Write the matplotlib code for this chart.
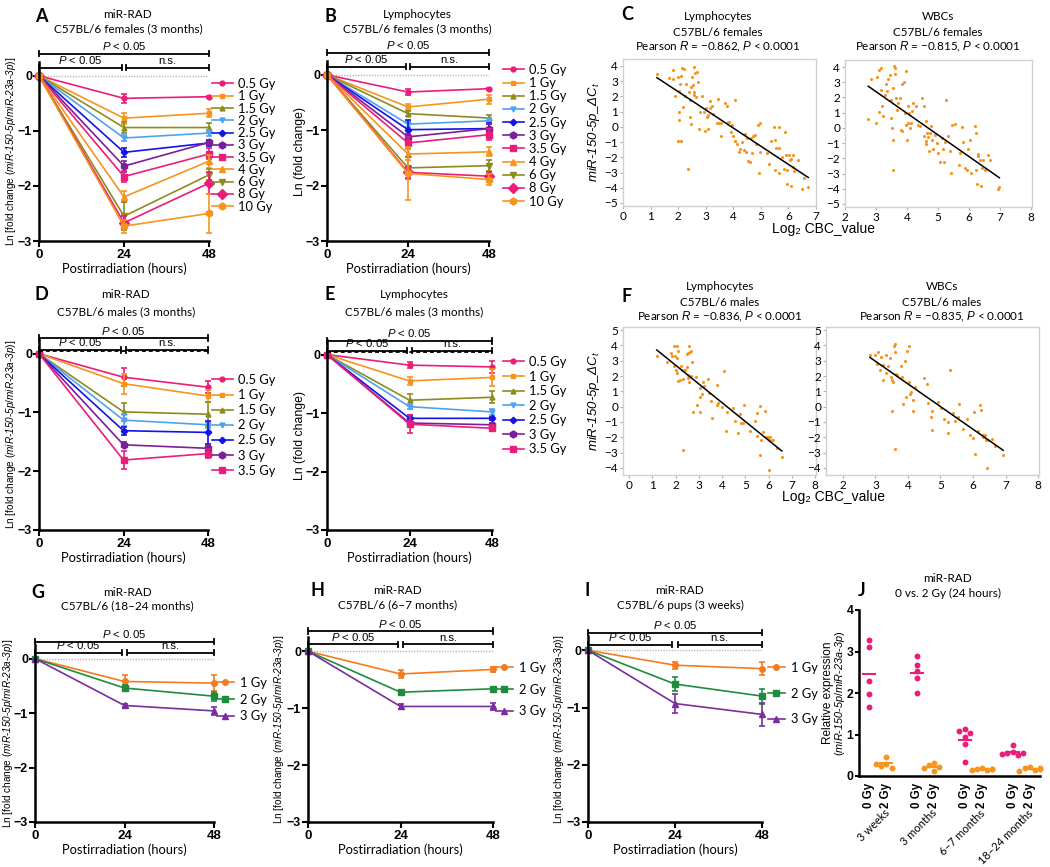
import numpy as np
import matplotlib.pyplot as plt
from matplotlib.transforms import blended_transform_factory

plt.rcParams['font.family'] = ['Liberation Sans', 'DejaVu Sans']
plt.rcParams['mathtext.fontset'] = 'custom'
plt.rcParams['mathtext.rm'] = 'Liberation Sans:italic'
plt.rcParams['mathtext.it'] = 'Liberation Sans:italic'
plt.rcParams['mathtext.bf'] = 'Liberation Sans:bold'

# ---------------- data ----------------
hours = [0, 24, 48]
doses_11 = ["0.5 Gy", "1 Gy", "1.5 Gy", "2 Gy", "2.5 Gy", "3 Gy", "3.5 Gy",
            "4 Gy", "6 Gy", "8 Gy", "10 Gy"]
doses_7 = doses_11[:7]
doses_3 = ["1 Gy", "2 Gy", "3 Gy"]

# A: miR-RAD, females
a_24h = [-0.41, -0.77, -0.94, -1.13, -1.39, -1.64, -1.83, -2.20, -2.55, -2.67, -2.73]
a_48h = [-0.38, -0.68, -0.94, -1.04, -1.22, -1.21, -1.42, -1.55, -1.80, -1.95, -2.50]
a_sem24 = [0.08, 0.10, 0.10, 0.06, 0.08, 0.10, 0.10, 0.10, 0.25, 0.12, 0.12]
a_sem48 = [0.02, 0.07, 0.08, 0.05, 0.05, 0.05, 0.10, 0.12, 0.10, 0.20, 0.35]

# B: lymphocytes, females
b_24h = [-0.31, -0.58, -0.70, -0.89, -0.99, -1.12, -1.23, -1.43, -1.68, -1.76, -1.78]
b_48h = [-0.25, -0.44, -0.78, -0.83, -0.97, -0.97, -1.08, -1.39, -1.64, -1.83, -1.89]
b_sem24 = [0.06, 0.06, 0.05, 0.05, 0.18, 0.05, 0.10, 0.10, 0.20, 0.10, 0.48]
b_sem48 = [0.02, 0.08, 0.06, 0.05, 0.10, 0.08, 0.10, 0.08, 0.10, 0.08, 0.10]

# D: miR-RAD, males
d_24h = [-0.40, -0.51, -0.99, -1.13, -1.31, -1.55, -1.81]
d_48h = [-0.57, -0.72, -1.03, -1.21, -1.34, -1.61, -1.70]
d_sem24 = [0.15, 0.17, 0.15, 0.10, 0.07, 0.04, 0.15]
d_sem48 = [0.10, 0.10, 0.20, 0.05, 0.20, 0.05, 0.08]

# E: lymphocytes, males
e_24h = [-0.18, -0.45, -0.78, -0.89, -1.09, -1.17, -1.19]
e_48h = [-0.21, -0.39, -0.73, -0.98, -1.09, -1.20, -1.26]
e_sem24 = [0.05, 0.07, 0.10, 0.04, 0.05, 0.05, 0.15]
e_sem48 = [0.10, 0.15, 0.10, 0.05, 0.03, 0.03, 0.05]

# G, H, I: age groups
g_24h = [-0.42, -0.54, -0.86]
g_48h = [-0.45, -0.69, -0.96]
g_sem24 = [0.12, 0.06, 0.02]
g_sem48 = [0.15, 0.08, 0.07]
h_24h = [-0.40, -0.72, -0.97]
h_48h = [-0.32, -0.66, -0.97]
h_sem24 = [0.07, 0.03, 0.04]
h_sem48 = [0.04, 0.02, 0.06]
i_24h = [-0.26, -0.59, -0.93]
i_48h = [-0.32, -0.80, -1.12]
i_sem24 = [0.06, 0.12, 0.17]
i_sem48 = [0.12, 0.13, 0.20]

# C: females, log2 CBC vs miR-150-5p dCt
c_lym_x = [1.23, 1.68, 1.83, 1.83, 1.90, 2.00, 1.99, 2.11, 2.04, 2.04, 2.17, 2.03, 2.08,
           2.13, 2.20, 2.10, 2.24, 2.27, 2.36, 2.39, 2.44, 2.47, 2.42, 2.48, 2.52, 2.53,
           2.56, 2.59, 2.61, 2.69, 2.66, 2.59, 2.71, 2.77, 2.81, 2.87, 2.93, 2.96, 3.00,
           3.05, 3.07, 3.09, 3.14, 3.17, 3.22, 3.26, 3.41, 3.45, 3.49, 3.54, 3.57, 3.69,
           3.77, 3.82, 3.86, 3.90, 3.96, 3.99, 4.05, 4.08, 4.08, 4.14, 4.20, 4.26, 4.31,
           4.39, 4.42, 4.45, 4.50, 4.54, 4.59, 4.63, 4.67, 4.71, 4.79, 4.84, 4.91, 4.93,
           4.97, 4.97, 5.24, 5.30, 5.36, 5.46, 5.52, 5.52, 5.54, 5.64, 5.67, 5.67, 5.78,
           5.84, 5.89, 5.93, 5.96, 5.96, 6.03, 6.05, 6.08, 6.11, 6.15, 6.17, 6.21, 6.33,
           6.51, 6.57, 6.72]
c_lym_y = [3.48, 3.20, 3.74, 3.15, 2.06, 3.26, -0.90, -0.90, 0.96, 0.46, 1.29, 2.36, 2.80,
           3.90, 3.80, 3.37, 2.06, 2.80, -2.76, 2.32, 0.68, 0.20, 1.77, 2.65, 3.30, 2.76,
           2.32, 3.96, 3.52, 3.63, 1.95, 2.10, 2.93, -0.13, 0.96, 2.06, 0.96, -0.24, 1.23,
           0.64, -0.13, 0.79, 1.23, 1.73, 1.34, 0.85, 0.24, 1.86, 0.24, 0.24, -0.59, 1.55,
           1.34, 0.35, 0.31, -0.35, 0.09, -0.63, -0.90, 1.77, -0.92, -1.14, -1.62, -1.47, -1.00,
           -1.51, -0.46, -1.62, -0.70, -2.23, -2.32, -0.70, -1.73, -0.63, -0.53, -1.14, 0.13, -3.04,
           0.24, -1.62, -1.73, -2.45, -0.96, -0.02, -2.82, -0.85, -1.36, 0.02, -1.36, -3.04, -2.01,
           -2.76, -0.35, -1.84, -2.82, -3.76, -1.84, -2.17, -3.90, -2.14, -2.67, -1.84, -2.93, -2.19,
           -4.09, -3.33, -3.98]
c_wbc_x = [2.75, 2.83, 2.99, 3.02, 3.10, 3.16, 3.10, 3.16, 3.20, 3.24, 3.29, 3.31, 3.34,
           3.40, 3.45, 3.47, 3.48, 3.51, 3.54, 3.56, 3.58, 3.60, 3.62, 3.56, 3.64, 3.67,
           3.70, 3.77, 3.81, 3.83, 3.85, 3.90, 3.94, 3.96, 3.97, 3.99, 4.02, 4.04, 4.06,
           4.10, 4.13, 4.17, 4.20, 4.28, 4.34, 4.42, 4.48, 4.56, 4.55, 4.60, 4.60, 4.61,
           4.66, 4.69, 4.71, 4.74, 4.77, 4.82, 4.85, 4.90, 4.96, 5.01, 5.06, 5.12, 5.15,
           5.19, 5.23, 5.26, 5.33, 5.37, 5.42, 5.44, 5.55, 5.66, 5.71, 5.76, 5.82, 5.87,
           5.92, 5.98, 6.03, 6.05, 6.19, 6.22, 6.23, 6.25, 6.28, 6.30, 6.35, 6.39, 6.41,
           6.46, 6.50, 6.60, 6.68, 6.92, 6.98]
c_wbc_y = [0.55, 3.24, 0.33, 3.35, 3.79, 3.94, 1.05, 2.52, 1.42, 0.77, 2.19, 2.89, 2.41,
           3.24, 3.46, 1.86, 0.66, -0.04, -0.83, -2.74, 4.05, 3.94, 3.55, 2.63, 1.97, 1.20,
           1.64, 1.97, -0.11, 2.85, -0.22, 3.00, 0.98, 3.72, 0.22, -0.83, 1.42, 0.33, 0.98,
           -0.04, 0.33, 1.14, 1.64, 1.42, 0.22, 0.15, 1.93, 1.42, -0.55, -0.88, 0.44, -1.09,
           -0.33, -0.61, -1.53, -0.33, 0.11, -0.83, -1.42, -0.44, -0.98, -1.64, -2.23, -0.66, -1.42,
           -2.23, -0.92, 1.86, -0.55, -1.53, -2.95, 0.22, 0.28, -2.41, -1.64, 0.04, -0.92, -2.67,
           -2.74, -1.42, -0.83, -2.95, 0.11, -0.33, -2.74, -3.68, -1.86, -1.75, -2.08, -3.79, -2.63,
           -2.08, -2.80, -1.79, -2.14, -4.00, -3.89]

# F: males
f_lym_x = [1.19, 1.62, 1.81, 1.83, 1.94, 2.05, 1.98, 2.08, 2.12, 1.95, 2.02, 2.08, 2.12,
           2.19, 2.23, 2.28, 2.31, 2.34, 2.42, 2.48, 2.51, 2.52, 2.55, 2.58, 2.55, 2.58,
           2.64, 2.67, 2.67, 2.72, 2.74, 2.88, 2.94, 3.05, 3.05, 3.07, 3.17, 3.15, 3.21,
           3.40, 3.45, 3.52, 3.56, 3.77, 3.77, 3.84, 3.99, 4.09, 4.17, 4.20, 4.46, 4.57,
           4.70, 4.77, 4.80, 4.92, 4.94, 5.20, 5.42, 5.49, 5.52, 5.63, 5.63, 5.66, 5.75,
           5.86, 5.89, 5.96, 6.02, 6.02, 6.06, 6.14, 6.21, 6.38, 6.57]
f_lym_y = [3.29, 2.89, 3.51, 3.33, 3.95, 3.95, 3.29, 3.18, 3.62, 2.68, 2.37, 2.19, 1.69,
           1.71, 2.63, 2.41, -2.85, 1.80, 2.37, 3.46, 2.59, 2.08, 3.51, 3.99, 1.86, 1.58,
           3.57, 3.62, 1.97, 2.89, -0.33, 1.91, 0.11, 1.21, 0.61, -0.33, 1.58, 0.81, 1.32,
           1.80, 0.92, 0.39, -0.77, 1.43, 0.11, 0.22, 0.00, 2.30, -1.60, -0.37, -0.11, -0.92,
           -1.75, -0.48, -1.05, -1.05, 0.11, -1.58, -0.94, -1.93, -0.44, 0.04, -3.18, -2.19, -1.64,
           -0.26, -1.97, -1.97, -2.19, -4.12, -1.97, -2.19, -2.19, -2.68, -3.29]
f_wbc_x = [2.83, 2.98, 3.09, 3.04, 3.14, 3.17, 3.24, 3.24, 3.31, 3.34, 3.39, 3.45, 3.48,
           3.52, 3.50, 3.55, 3.57, 3.60, 3.61, 3.61, 3.63, 3.65, 3.78, 3.81, 3.85, 3.91,
           3.94, 3.98, 4.02, 4.02, 4.06, 4.10, 4.14, 4.16, 4.23, 4.48, 4.59, 4.62, 4.72,
           4.73, 4.75, 4.91, 5.01, 5.12, 5.24, 5.24, 5.29, 5.39, 5.45, 5.55, 5.57, 5.70,
           5.81, 5.91, 5.99, 6.03, 6.07, 6.16, 6.22, 6.25, 6.30, 6.32, 6.37, 6.40, 6.42,
           6.47, 6.57, 6.68, 6.93]
f_wbc_y = [3.36, 3.36, 3.55, 2.81, 2.41, 3.22, 2.74, 1.71, 2.19, 3.36, 2.63, 3.18, 1.91,
           -0.26, 1.75, 1.64, 3.99, -2.74, 4.06, 3.55, 2.13, 2.08, 2.63, 1.91, 0.15, 2.96,
           0.66, 3.62, 3.99, 1.58, 0.83, 0.99, -0.26, 0.44, 1.27, 1.86, 1.47, 0.22, -0.70,
           -1.54, -0.29, 0.29, -0.07, -0.83, -1.69, -0.99, 2.37, -0.39, -0.94, -0.66, 0.15, -1.49,
           -0.81, -1.82, -2.04, -0.33, -3.07, -1.58, 0.11, -0.22, -1.86, -1.97, -1.86, -2.15, -4.01,
           -2.19, -2.08, -2.59, -3.14]

# J: relative expression at 24 h, 0 vs 2 Gy
j_groups = ["3 weeks", "3 months", "6\u20137 months", "18\u201324 months"]
j_0gy = [[3.27, 3.10, 2.30, 1.98, 1.67],
         [2.90, 2.67, 2.52, 2.35, 2.00],
         [1.13, 1.08, 1.03, 0.93, 0.77, 0.33],
         [0.75, 0.58, 0.55, 0.50, 0.52, 0.56]]
j_2gy = [[0.46, 0.30, 0.25, 0.20, 0.30],
         [0.32, 0.27, 0.22, 0.12, 0.20],
         [0.20, 0.17, 0.15, 0.14, 0.16, 0.18],
         [0.22, 0.20, 0.15, 0.12, 0.18, 0.20]]

# ---------------- styling ----------------
PINK, ORANGE, OLIVE = '#ec1c7b', '#f7941d', '#8c8c1e'
LBLUE, BLUE, PURPLE = '#4da3f2', '#1414e6', '#7a1f9c'
GREEN, PURPLE2, ORANGE2 = '#1e8c3c', '#7b2c9f', '#f47b20'
colors_11 = [PINK, ORANGE, OLIVE, LBLUE, BLUE, PURPLE, PINK, ORANGE, OLIVE, PINK, ORANGE]
markers_11 = ['o', 's', '^', 'v', 'D', 'h', 's', '^', 'v', 'D', 'h']
msize_11 = [3.5, 3.5, 3.5, 3.5, 3.3, 5, 5, 5, 5, 5, 5]
colors_3 = [ORANGE2, GREEN, PURPLE2]
markers_3 = ['o', 's', '^']

TFONT = ['Lato', 'DejaVu Sans']
W, H = 1050, 867
fig = plt.figure(figsize=(W / 100, H / 100), dpi=100)


def box(l, t, r, b):
    ax = fig.add_axes([l / W, 1 - b / H, (r - l) / W, (b - t) / H])
    ax.px = (l, r)
    return ax


def ftext(x, y, s, **kw):
    kw.setdefault('ha', 'center')
    kw.setdefault('va', 'center')
    fig.text(x / W, 1 - y / H, s, **kw)


def title(x, y, lines, letter=None, lx=None, ly=None, dy=14, fs=8.5):
    for k, s in enumerate(lines):
        ftext(x, y + k * dy, s, family=TFONT, fontsize=fs)
    if letter:
        ftext(lx, ly, letter, family=TFONT, fontsize=13, fontweight='bold')


def bracket(ax, x0, x1, y, txt, cap=0.05, ty=0.03):
    ax.plot([x0, x1], [y, y], color='k', lw=1.3, clip_on=False, solid_capstyle='butt')
    for x in (x0, x1):
        ax.plot([x, x], [y - cap, y + cap], color='k', lw=1.3, clip_on=False)
    ax.text((x0 + x1) / 2, y + ty, txt, ha='center', va='bottom', fontsize=8.2, clip_on=False)


def line_panel(ax, labels, colors, markers, sizes, v24, v48, s24, s48,
               long_y, short_y, dashed=False, ylabel=None, ylfs=7.2, ylx=None):
    for lab, c, m, ms, a, b, ea, eb in zip(labels, colors, markers, sizes, v24, v48, s24, s48):
        y = [0, a, b]
        ax.errorbar(hours, y, yerr=[0, ea, eb], fmt='none', ecolor=c, elinewidth=1.2,
                    capsize=2.5, capthick=1.2, clip_on=False)
        ax.plot(hours, y, color=c, marker=m, ms=ms, lw=1.2, label=lab, clip_on=False)
    if dashed:
        ax.plot([0, 48], [short_y - 0.02, short_y - 0.02], color='k', lw=1.3,
                dashes=(2.2, 1.6), clip_on=False)
    else:
        ax.axhline(0, color='#b8b8b8', lw=1.0, ls=(0, (1, 1)), zorder=0)
    bracket(ax, 0, 48, long_y, '$P$ < 0.05')
    bracket(ax, 0, 23.3, short_y, '$P$ < 0.05')
    bracket(ax, 24.7, 48, short_y, 'n.s.')
    ax.set_xlim(0, 48)
    ax.set_ylim(-3, 0.25)
    ax.set_xticks(hours)
    ax.set_yticks([0, -1, -2, -3])
    ax.spines[['top', 'right']].set_visible(False)
    for sp in ('left', 'bottom'):
        ax.spines[sp].set_linewidth(1.8)
    ax.tick_params(axis='x', direction='out', length=4, width=1.5, labelsize=9.5, pad=1.5)
    ax.tick_params(axis='y', direction='out', length=4, width=1.5, labelsize=9, pad=1)
    for t in ax.get_xticklabels() + ax.get_yticklabels():
        t.set_fontweight('bold')
    ax.set_xlabel('Postirradiation (hours)', family=TFONT, fontsize=9.3, labelpad=1)
    ax.set_ylabel(ylabel, fontsize=ylfs, va='center')
    if ylx is not None:
        l, r = ax.px
        ax.yaxis.set_label_coords((ylx - l) / (r - l), 0.5)


MIR_LABEL = ('Ln [fold change ($miR$-$150$-$5p$/$miR$-$23a$-$3p$)]')


def add_legend(ax, lx, ly, spacing, fs=9.3, hl=1.6):
    ax.legend(loc='upper left', bbox_to_anchor=(lx / W, 1 - ly / H),
              bbox_transform=fig.transFigure, frameon=False,
              handlelength=hl, handletextpad=0.45, labelspacing=spacing,
              borderaxespad=0, borderpad=0, prop={'family': TFONT, 'size': fs})


# ---- A ----
axA = box(39, 62, 209, 241)
line_panel(axA, doses_11, colors_11, markers_11, msize_11, a_24h, a_48h, a_sem24, a_sem48,
           0.40, 0.15, ylabel=MIR_LABEL, ylx=11)
add_legend(axA, 212, 78, 0.02)
title(128, 15, ['miR-RAD', 'C57BL/6 females (3 months)'], 'A', 41, 17)

# ---- B ----
axB = box(327, 61, 489, 241)
line_panel(axB, doses_11, colors_11, markers_11, msize_11, b_24h, b_48h, b_sem24, b_sem48,
           0.40, 0.15, ylabel='Ln (fold change)', ylfs=8.8, ylx=300)
add_legend(axB, 503, 64, 0.09)
title(417, 15, ['Lymphocytes', 'C57BL/6 females (3 months)'], 'B', 330, 17)

# ---- D ----
axD = box(39, 339, 208, 530)
line_panel(axD, doses_7, colors_11[:7], markers_11[:7], msize_11[:7], d_24h, d_48h,
           d_sem24, d_sem48, 0.26, 0.07, dashed=True, ylabel=MIR_LABEL, ylx=11)
add_legend(axD, 212, 374, 0.24)
title(126, 295, ['miR-RAD', 'C57BL/6 males (3 months)'], 'D', 41, 295, dy=17)

# ---- E ----
axE = box(327, 340, 492, 530)
line_panel(axE, doses_7, colors_11[:7], markers_11[:7], msize_11[:7], e_24h, e_48h,
           e_sem24, e_sem48, 0.24, 0.07, dashed=True, ylabel='Ln (fold change)', ylfs=8.8,
           ylx=300)
add_legend(axE, 503, 356, 0.2)
title(414, 295, ['Lymphocytes', 'C57BL/6 males (3 months)'], 'E', 330, 295, dy=17)

# ---- G ----
axG = box(35, 645, 214, 822)
line_panel(axG, doses_3, colors_3, markers_3, [4, 4, 4], g_24h, g_48h, g_sem24, g_sem48,
           0.31, 0.11, ylabel=MIR_LABEL, ylx=8)
add_legend(axG, 217, 677, 0.35, hl=1.3)
title(127, 592, ['miR-RAD', 'C57BL/6 (18\u201324 months)'], 'G', 38, 592, dy=14)

# ---- H ----
axH = box(308, 637, 493, 822)
line_panel(axH, doses_3, colors_3, markers_3, [4, 4, 4], h_24h, h_48h, h_sem24, h_sem48,
           0.35, 0.12, ylabel=MIR_LABEL, ylx=279)
add_legend(axH, 496, 662, 0.75, hl=1.3)
title(398, 590, ['miR-RAD', 'C57BL/6 (6\u20137 months)'], 'H', 317, 590, dy=15)

# ---- I ----
axI = box(588, 636, 762, 822)
line_panel(axI, doses_3, colors_3, markers_3, [4, 4, 4], i_24h, i_48h, i_sem24, i_sem48,
           0.31, 0.10, ylabel=MIR_LABEL, ylx=559)
add_legend(axI, 768, 662, 1.05, hl=1.3)
title(680, 590, ['miR-RAD', 'C57BL/6 pups (3 weeks)'], 'I', 587, 590, dy=15)


# ---------------- scatter panels ----------------
def scatter_panel(ax, x, y, xlim, ylim, xticks, yticks):
    x = np.asarray(x)
    y = np.asarray(y)
    ax.scatter(x, y, s=5, color=ORANGE, linewidths=0, zorder=2)
    k, b = np.polyfit(x, y, 1)
    xs = np.array([x.min(), x.max()])
    ax.plot(xs, k * xs + b, color='k', lw=1.1, zorder=3)
    ax.set_xlim(*xlim)
    ax.set_ylim(*ylim)
    ax.set_xticks(xticks)
    ax.set_yticks(yticks)
    for sp in ax.spines.values():
        sp.set_color('#d0d0d0')
        sp.set_linewidth(1.0)
    ax.tick_params(length=2, color='#b0b0b0', labelsize=8.5, pad=1.5)
    for t in ax.get_xticklabels() + ax.get_yticklabels():
        t.set_family(TFONT)


DCT_LABEL = 'miR-150-5p_\u0394$C_{\\rm t}$'
LOG_FONT = ['Liberation Sans', 'DejaVu Sans']

axC1 = box(623, 59, 816, 206)
scatter_panel(axC1, c_lym_x, c_lym_y, (0, 7), (-5.2, 4.46), range(0, 8), range(-5, 5))
axC1.set_ylabel(DCT_LABEL, fontstyle='italic', fontsize=9.5, labelpad=2)
axC2 = box(845, 60, 1032, 207)
scatter_panel(axC2, c_wbc_x, c_wbc_y, (2, 8.03), (-5.2, 4.46), range(2, 9), range(-5, 5))
title(718, 17, ['Lymphocytes', 'C57BL/6 females', 'Pearson $R$ = \u22120.862, $P$ < 0.0001'],
      'C', 627, 15, dy=15, fs=8.4)
title(938, 17, ['WBCs', 'C57BL/6 females', 'Pearson $R$ = \u22120.815, $P$ < 0.0001'],
      dy=15, fs=8.4)
ftext(824, 229, 'Log\u2082 CBC_value', family=LOG_FONT, fontsize=10)

axF1 = box(623, 327, 816, 475)
scatter_panel(axF1, f_lym_x, f_lym_y, (-0.26, 8.04), (-4.46, 5.2), range(0, 9), range(-4, 6))
axF1.set_ylabel(DCT_LABEL, fontstyle='italic', fontsize=9.5, labelpad=2)
axF2 = box(826, 327, 1039, 475)
scatter_panel(axF2, f_wbc_x, f_wbc_y, (1.48, 8.03), (-4.46, 5.2), range(2, 9), range(-4, 6))
title(720, 287, ['Lymphocytes', 'C57BL/6 males', 'Pearson $R$ = \u22120.836, $P$ < 0.0001'],
      'F', 627, 297, dy=15, fs=8.4)
title(942, 287, ['WBCs', 'C57BL/6 males', 'Pearson $R$ = \u22120.835, $P$ < 0.0001'],
      dy=15, fs=8.4)
ftext(833, 497, 'Log\u2082 CBC_value', family=LOG_FONT, fontsize=10)

# ---------------- J ----------------
axJ = box(859, 610, 1040, 776)
pos = [0, 1, 2.75, 3.75, 5.5, 6.5, 8.25, 9.25]


def swarm(vals, dx=0.3, dy=0.13):
    placed = []
    offs = []
    for v in vals:
        for o in (0, -dx, dx, -2 * dx, 2 * dx):
            if all(abs(v - pv) > dy or abs(o - po) > dx * 0.9 for pv, po in placed):
                break
        placed.append((v, o))
        offs.append(o)
    return np.array(offs)


for g in range(len(j_groups)):
    for vals, p, c in ((j_0gy[g], pos[2 * g], PINK), (j_2gy[g], pos[2 * g + 1], ORANGE)):
        v = np.array(vals)
        axJ.scatter(p + swarm(v), v, s=18, color=c, linewidths=0, clip_on=False, zorder=3)
        axJ.plot([p - 0.35, p + 0.35], [v.mean(), v.mean()], color=c, lw=1.5, zorder=2)

axJ.set_xlim(-0.57, 9.83)
axJ.set_ylim(0, 4)
axJ.set_yticks(range(0, 5))
axJ.set_xticks(pos)
axJ.set_xticklabels(['0 Gy', '2 Gy'] * 4, rotation=90)
axJ.spines[['top', 'right']].set_visible(False)
for sp in ('left', 'bottom'):
    axJ.spines[sp].set_linewidth(1.8)
axJ.tick_params(axis='y', direction='out', length=3, width=1.5, labelsize=8.8, pad=1)
axJ.tick_params(axis='x', length=0, labelsize=8.3, pad=5)
for t in axJ.get_xticklabels() + axJ.get_yticklabels():
    t.set_fontweight('bold')
tr = blended_transform_factory(axJ.transData, axJ.transAxes)
for g, name in enumerate(j_groups):
    axJ.text(pos[2 * g] + 0.85, -0.19, name, transform=tr, rotation=45, ha='right', va='top',
             rotation_mode='anchor', family=TFONT, fontsize=8)
ftext(828, 693, 'Relative expression', rotation=90, fontsize=8.5)
ftext(840, 693, '($miR$-$150$-$5p$/$miR$-$23a$-$3p$)', rotation=90, fontsize=7.8)
title(948, 578, ['miR-RAD', '0 vs. 2 Gy (24 hours)'], 'J', 862, 590, dy=15)

fig.savefig('out.png', dpi=100)
